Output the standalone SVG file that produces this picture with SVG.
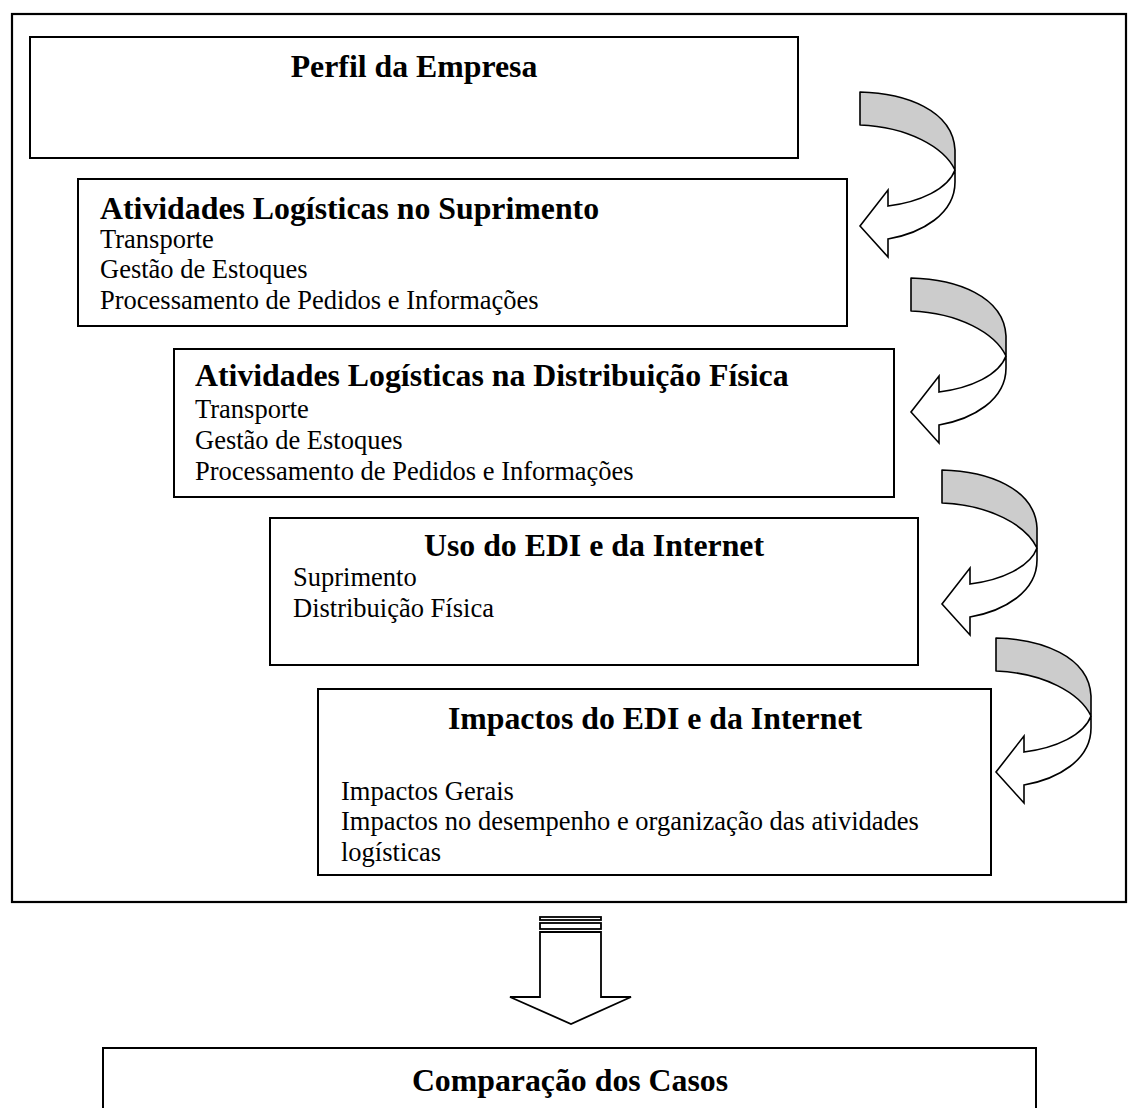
<svg xmlns="http://www.w3.org/2000/svg" xmlns:xlink="http://www.w3.org/1999/xlink" width="1129" height="1108" viewBox="0 0 1129 1108">
<style>
.box{fill:#fff;stroke:#000;stroke-width:2}
.frame{fill:none;stroke:#000;stroke-width:2.2}
.h{font-family:"Liberation Serif","Times New Roman",serif;font-weight:bold;font-size:31.8px;fill:#000}
.t{font-family:"Liberation Serif","Times New Roman",serif;font-size:26.5px;fill:#000}
.back{fill:#cccccc;stroke:#000;stroke-width:1.6;stroke-linejoin:round}
.front{fill:#fff;stroke:#000;stroke-width:1.6;stroke-linejoin:miter}
.dn{fill:#fff;stroke:#000;stroke-width:1.8}
</style>
<defs>
<g id="curved">
<path class="back" d="M0,0 C45,1 93,18 95,58 L95,78 C84,55 48,35 0,33 Z"/>
<path class="front" d="M95,78 C88,97 60,110 28,114 L28,98 L0,134 L28,165 L28,147 C62,141 95,122 95,90 Z"/>
</g>
</defs>
<rect width="1129" height="1108" fill="#fff"/>
<g id="outer-frame"><rect class="frame" x="12" y="14" width="1114" height="888"/></g>
<g id="perfil">
<rect class="box" x="30" y="37" width="768" height="121"/>
<text class="h" x="414" y="77" text-anchor="middle">Perfil da Empresa</text>
</g>
<g id="suprimento">
<rect class="box" x="78" y="179" width="769" height="147"/>
<text class="h" x="100" y="219">Atividades Logísticas no Suprimento</text>
<text class="t" x="100" y="248">Transporte</text>
<text class="t" x="100" y="278">Gestão de Estoques</text>
<text class="t" x="100" y="309">Processamento de Pedidos e Informações</text>
</g>
<g id="distribuicao">
<rect class="box" x="174" y="349" width="720" height="148"/>
<text class="h" x="195" y="386">Atividades Logísticas na Distribuição Física</text>
<text class="t" x="195" y="418">Transporte</text>
<text class="t" x="195" y="449">Gestão de Estoques</text>
<text class="t" x="195" y="480">Processamento de Pedidos e Informações</text>
</g>
<g id="uso-edi">
<rect class="box" x="270" y="518" width="648" height="147"/>
<text class="h" x="594" y="556" text-anchor="middle">Uso do EDI e da Internet</text>
<text class="t" x="293" y="586">Suprimento</text>
<text class="t" x="293" y="617">Distribuição Física</text>
</g>
<g id="impactos">
<rect class="box" x="318" y="689" width="673" height="186"/>
<text class="h" x="655" y="729" text-anchor="middle">Impactos do EDI e da Internet</text>
<text class="t" x="341" y="800">Impactos Gerais</text>
<text class="t" x="341" y="830">Impactos no desempenho e organização das atividades</text>
<text class="t" x="341" y="861">logísticas</text>
</g>
<g id="comparacao">
<rect class="box" x="103" y="1048" width="933" height="80"/>
<text class="h" x="570" y="1091" text-anchor="middle">Comparação dos Casos</text>
</g>
<g id="connectors">
<use xlink:href="#curved" x="860" y="92"/>
<use xlink:href="#curved" x="911" y="278"/>
<use xlink:href="#curved" x="942" y="470"/>
<use xlink:href="#curved" x="996" y="638"/>
<rect class="dn" x="540" y="917" width="61" height="3"/>
<rect class="dn" x="540" y="923" width="61" height="6"/>
<path class="dn" d="M540,932 L601,932 L601,997 L631,997 L571,1024 L510,997 L540,997 Z"/>
</g>
</svg>
